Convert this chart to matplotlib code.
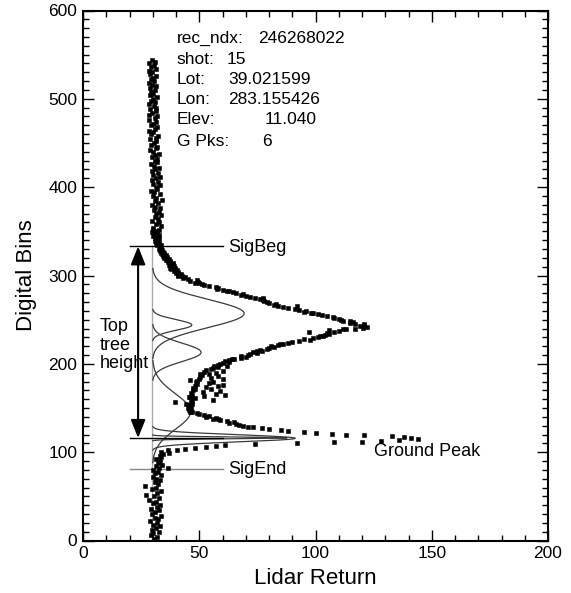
import numpy as np
import matplotlib
matplotlib.use("Agg")
import matplotlib.pyplot as plt
from matplotlib.ticker import MultipleLocator

plt.rcParams['font.family'] = ['Liberation Sans', 'DejaVu Sans']

# ---------------- data ----------------
# waveform samples: bin index -> lidar return
low_bins = list(range(2, 103, 2))
low_vals = [30.4, 32.0, 29.3, 30.2, 32.9, 29.5, 31.2, 33.0, 30.0, 31.8,
            29.0, 32.4, 30.8, 33.4, 29.8, 31.0, 32.6, 29.4, 32.0, 33.2,
            30.2, 31.6, 28.6, 32.8, 30.6, 27.2, 31.8, 33.6, 29.8, 31.2,
            26.8, 32.2, 30.8, 33.0, 31.4, 30.0, 33.4, 31.0, 32.4, 30.2,
            32.8, 31.4, 33.8, 32.2, 33.2, 31.6, 33.6, 33.2, 34.5, 33.5, 36.5]

sig_bins = list(range(103, 352))
sig_vals = [40.5, 44, 48, 53, 57, 61, 74, 92, 108, 120,
            128, 136, 144, 141, 138, 133, 121, 113, 107, 100,
            95, 88, 85, 80, 77, 73, 71, 69, 67, 66,
            63, 65, 62, 59, 58, 56, 57, 53, 54, 52,
            50, 49, 47, 46, 46.5, 45.5, 46, 45, 46.5, 45.5,
            46, 47, 44.5, 46.5, 39.6, 47, 56, 46.5, 48, 45.5,
            46, 52, 47, 57, 46.5, 51.5, 59, 47.5, 55, 48,
            47.5, 53, 48, 60, 49, 54, 48.5, 56, 49, 46,
            50, 55, 50.3, 58, 51, 54, 50.3, 57, 52, 60,
            53, 55, 56, 58, 56.5, 62, 58, 59, 60, 63,
            61, 63, 65, 64, 68, 70, 68, 71, 72, 74.7,
            73, 75, 77, 76, 79, 80, 82, 81, 84, 86,
            84.7, 88, 90, 93, 97.6, 95, 99, 101, 103.4, 102,
            104, 106, 104.8, 108, 110, 106, 113, 117, 120.6, 122,
            119, 121, 117, 115, 116, 114.8, 112, 111, 110, 108,
            107.7, 105, 103, 101, 99, 98, 95, 96, 93, 91,
            88, 86, 92, 84, 82, 83, 80, 79, 78, 77.5,
            76, 77.6, 74, 72, 70, 68, 69, 66, 64.6, 63,
            62, 60, 57.5, 58, 57, 54, 52, 51, 50, 48,
            49.5, 46, 49, 45, 43, 44, 41, 42.4, 41, 42,
            40, 41, 39, 40.5, 38, 39.5, 37.5, 38, 39, 37,
            38.5, 38.8, 36.5, 37.5, 36, 35.5, 37, 35, 36, 34.5,
            35.5, 34, 35, 33.5, 34.5, 33, 34, 32.5, 33.5, 33,
            33, 32, 33.5, 32.5, 31.5, 32.5, 31, 32, 31.5, 32.5,
            31, 32.4, 30.2, 32.6, 30.4, 31.8, 29.8, 31.6, 30.2]

high_bins = list(range(352, 545, 2))
high_vals = [32.6, 30.2, 33.4, 31.4, 32.8, 29.8, 32.2, 30.8, 33.6, 31.2,
             32.6, 30.4, 33.2, 30.9, 29.8, 32.4, 31.0, 33.8, 31.6, 30.2,
             33.0, 30.6, 29.4, 32.0, 31.2, 33.2, 30.0, 32.4, 29.6, 31.6,
             33.0, 30.2, 32.2, 29.8, 31.0, 32.8, 30.4, 29.2, 31.8, 31.0,
             31.8, 29.6, 30.8, 32.6, 30.0, 28.8, 31.4, 32.0, 29.2, 30.6,
             31.6, 29.0, 31.2, 32.4, 29.4, 30.2, 28.6, 31.0, 31.8, 29.2,
             30.0, 31.4, 28.6, 30.8, 32.0, 28.4, 29.6, 31.2, 29.0, 31.6,
             30.4, 28.2, 30.8, 29.4, 30.2, 31.8, 28.8, 30.0, 29.2, 31.0,
             28.8, 31.4, 29.6, 28.2, 30.6, 29.2, 30.2, 31.6, 28.8, 29.8,
             28.4, 31.2, 29.4, 30.4, 28.4, 30.8, 29.6]

extra_bins = [82, 99, 165, 175, 183, 236, 245, 240]
extra_vals = [36.6, 37.2, 61, 58, 60, 97, 121, 112]

# Gaussian decomposition (6 peaks)
peak_centers = [257, 244, 213, 146, 115.7, 116.2]
peak_amps = [39.5, 17, 21, 16.5, 61.5, 58]
peak_widths = [16, 6, 10.5, 20, 4, 1.0]
noise_level = 29.8

sig_beg = 333
sig_end = 81
ground_bin = 116

info_labels = ["rec_ndx:", "shot:", "Lot:", "Lon:", "Elev:", "G Pks:"]
info_values = ["246268022", "15", "39.021599", "283.155426", "11.040", "6"]

# ---------------- figure ----------------
fig = plt.figure(figsize=(5.71, 5.93), dpi=100)
ax = fig.add_axes([83 / 571, 52.5 / 593, 465 / 571, 530 / 593])

# baseline (noise level) line
ax.plot([noise_level, noise_level], [0, sig_beg], color='#aaaaaa', lw=1.0, zorder=1)

# Gaussian components
for mu, amp, sd in zip(peak_centers, peak_amps, peak_widths):
    z = np.sqrt(2 * np.log(amp / 0.25))
    yb = np.linspace(mu - z * sd, mu + z * sd, 400)
    xv = noise_level + amp * np.exp(-0.5 * ((yb - mu) / sd) ** 2)
    ax.plot(xv, yb, color='#3a3a3a', lw=0.9, zorder=2)

# signal begin / end / ground lines
ax.plot([20, 60], [sig_beg, sig_beg], color='black', lw=1.0, zorder=3)
ax.plot([20, 60], [sig_end, sig_end], color='#888888', lw=1.0, zorder=3)
ax.plot([20, 60], [ground_bin, ground_bin], color='black', lw=1.0, zorder=3)

# waveform dots
for b, v in [(low_bins, low_vals), (sig_bins, sig_vals),
             (high_bins, high_vals), (extra_bins, extra_vals)]:
    ax.plot(v, b, linestyle='none', marker='s', ms=2.2, mfc='black',
            mec='black', mew=0.4, zorder=4)

# tree-height arrow
ax.annotate('', xy=(23.7, ground_bin), xytext=(23.7, sig_beg),
            arrowprops=dict(arrowstyle='<|-|>,head_length=0.55,head_width=0.22',
                            color='black', lw=1.5, shrinkA=0, shrinkB=0,
                            mutation_scale=20), zorder=5)

fs = 12.5
ax.text(7.3, 221, "Top\ntree\nheight", fontsize=13, ha='left', va='center',
        linespacing=1.1)
ax.text(62.4, 332, "SigBeg", fontsize=13, ha='left', va='center')
ax.text(62.4, 80, "SigEnd", fontsize=13, ha='left', va='center')
ax.text(125.3, 100.6, "Ground Peak", fontsize=13, ha='left', va='center')

info_y = [568.7, 545, 521.5, 498.9, 476.3, 451.6]
info_vx = [75.3, 61.8, 62.4, 62.4, 78.3, 77]
for lab, val, yy, vx in zip(info_labels, info_values, info_y, info_vx):
    ax.text(40.3, yy, lab, fontsize=fs, ha='left', va='center')
    ax.text(vx, yy, val, fontsize=fs, ha='left', va='center')

# axes styling
ax.set_xlim(0, 200)
ax.set_ylim(0, 600)
ax.xaxis.set_major_locator(MultipleLocator(50))
ax.xaxis.set_minor_locator(MultipleLocator(10))
ax.yaxis.set_major_locator(MultipleLocator(100))
ax.yaxis.set_minor_locator(MultipleLocator(10))
ax.tick_params(which='both', direction='in', top=True, right=True,
               labelsize=fs, width=1.0)
ax.tick_params(which='major', length=8, pad=4)
ax.tick_params(which='minor', length=4.5)
for s in ax.spines.values():
    s.set_linewidth(1.5)
ax.set_xlabel("Lidar Return", fontsize=16, labelpad=5)
ax.set_ylabel("Digital Bins", fontsize=16, labelpad=8)

fig.savefig("out.png", dpi=100)
